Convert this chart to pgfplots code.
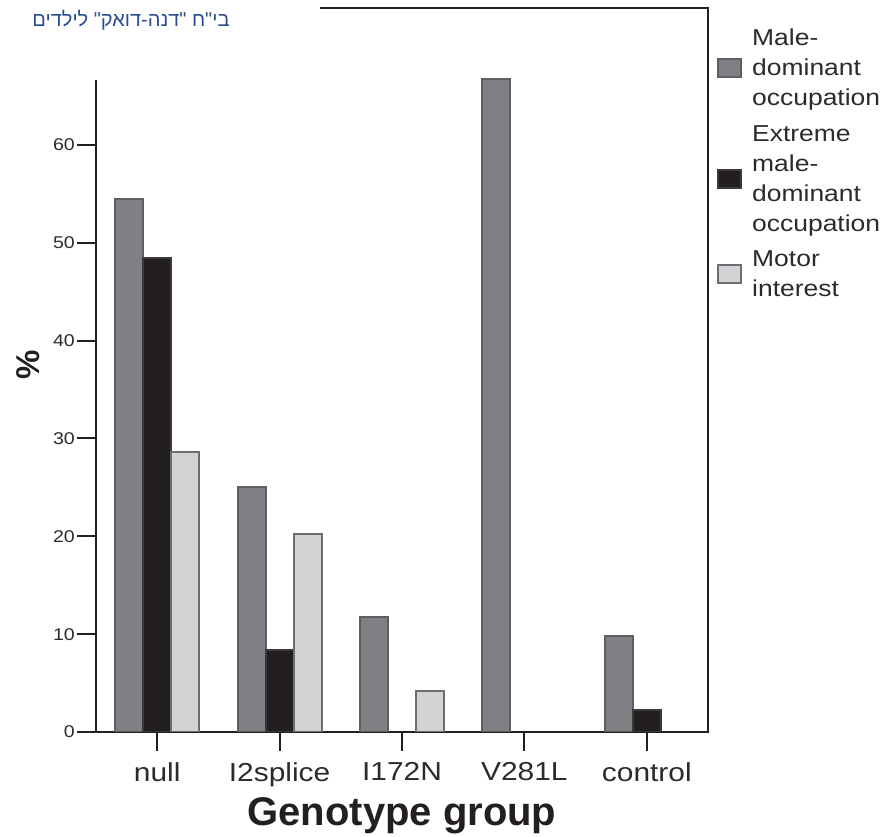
\documentclass[border=0pt]{standalone}
\usepackage{fontspec}
\setmainfont{Liberation Sans}[FakeStretch=1.15]
\newfontfamily\titlefont{Liberation Sans}
\newfontfamily\hebfont[Script=Hebrew]{Liberation Sans}
\TeXXeTstate=1
\usepackage{pgfplots}
\pgfplotsset{compat=1.18}
\definecolor{cgrey}{HTML}{7F8084}
\definecolor{cgreyedge}{HTML}{5E5F63}
\definecolor{cblack}{HTML}{231F20}
\definecolor{cblackedge}{HTML}{3A3A3C}
\definecolor{clight}{HTML}{D1D3D4}
\definecolor{clightedge}{HTML}{6D6E71}
\definecolor{caxis}{HTML}{231F20}
\definecolor{ctext}{HTML}{2B2B2B}
\definecolor{chebrew}{HTML}{2A4D8F}
\begin{document}
\begin{tikzpicture}[x=1pt,y=1pt]
\path[use as bounding box] (0pt,0pt) rectangle (892pt,837pt);
\begin{axis}[
  at={(96pt,105pt)}, anchor=south west,
  width=612pt, height=724pt, scale only axis,
  xmin=-0.5, xmax=4.5, ymin=0, ymax=74,
  ybar=0pt, bar width=28pt,
  every axis plot post/.append style={legend image code/.code={\draw[##1, line width=2pt] (0pt,-9pt) rectangle (23pt,9pt);}},
  xtick={0,1,2,3,4}, xticklabels={null,I2splice,I172N,V281L,control},
  ytick={0,10,20,30,40,50,60},
  xtick pos=lower, ytick pos=left,
  tick align=outside, major tick length=19pt,
  axis line style={color=caxis, line width=2pt},
  tick style={color=caxis, line width=2pt},
  /pgf/number format/assume math mode=true,
  yticklabel style={font=\fontsize{17}{20}\selectfont, text=ctext, inner sep=2pt},
  xticklabel style={font=\fontsize{26}{30}\selectfont, text=ctext, inner sep=2pt, yshift=-9pt},
  xlabel={Genotype group},
  xlabel style={font=\titlefont\bfseries\fontsize{40}{44}\selectfont, text=cblack, at={([yshift=-84pt]axis description cs:0.5,0)}, anchor=center},
  ylabel={\%},
  ylabel style={font=\titlefont\bfseries\fontsize{33}{36}\selectfont, text=cblack, at={([xshift=-68pt]axis description cs:0,0.507)}, anchor=center},
  legend style={at={(1,1)}, anchor=north west, xshift=9pt, yshift=-19pt, draw=none, fill=none,
    font=\fontsize{23}{30}\selectfont, text=ctext, inner sep=0pt, row sep=14pt,
    cells={anchor=west, align=left},
    /tikz/every odd column/.append style={column sep=8pt},
    /tikz/every even column/.append style={column sep=0pt}},
  legend cell align=left,
]
\addplot[fill=cgrey, draw=cgreyedge, line width=2pt] coordinates {(0,54.5) (1,25.0) (2,11.8) (3,66.7) (4,9.8)};
\addplot[fill=cblack, draw=cblackedge, line width=2pt] coordinates {(0,48.4) (1,8.4) (4,2.2)};
\addplot[fill=clight, draw=clightedge, line width=2pt] coordinates {(0,28.6) (1,20.2) (2,4.2)};
\addlegendentry{Male-\\dominant\\occupation}
\addlegendentry{Extreme\\male-\\dominant\\occupation}
\addlegendentry{Motor\\interest}
\end{axis}
\fill[white] (0pt,757pt) rectangle (320pt,837pt);
\node[font=\hebfont\fontsize{20}{24}\selectfont, text=chebrew, anchor=center] at (131pt,817pt) {\beginR בי"ח "דנה-דואק" לילדים\endR};
\end{tikzpicture}
\end{document}
